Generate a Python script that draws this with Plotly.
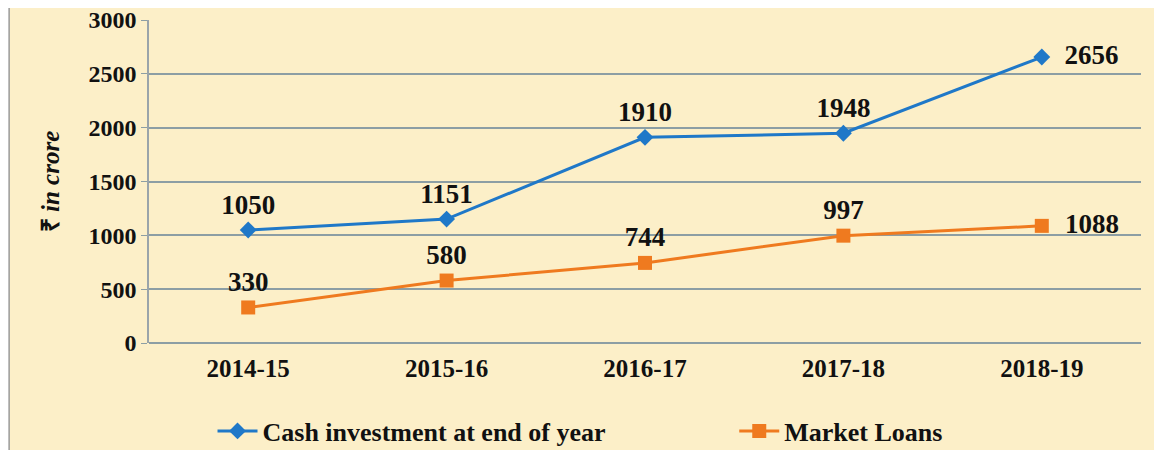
import plotly.graph_objects as go

years = ["2014-15", "2015-16", "2016-17", "2017-18", "2018-19"]
cash_investment = [1050, 1151, 1910, 1948, 2656]
market_loans = [330, 580, 744, 997, 1088]
y_ticks = [0, 500, 1000, 1500, 2000, 2500, 3000]

BLUE = "#1f78c8"
ORANGE = "#ef7a1f"
CREAM = "#fcefc8"
GRID = "#8c9ea4"
FONT = "Liberation Serif, Times New Roman, serif"

pos = ["top center"] * 4 + ["middle right"]


def labels(vals):
    # last point is labelled to the right, with a little gap
    return [str(v) for v in vals[:-1]] + ["  " + str(vals[-1])]


fig = go.Figure()
fig.add_trace(go.Scatter(
    x=years, y=cash_investment, name="Cash investment at end of year",
    mode="lines+markers+text", text=labels(cash_investment),
    textposition=pos, textfont=dict(size=27, color="#111111"),
    line=dict(color=BLUE, width=3),
    marker=dict(symbol="diamond", size=13, color=BLUE),
    legend="legend",
))
fig.add_trace(go.Scatter(
    x=years, y=market_loans, name="Market Loans",
    mode="lines+markers+text", text=labels(market_loans),
    textposition=pos, textfont=dict(size=27, color="#111111"),
    line=dict(color=ORANGE, width=3),
    marker=dict(symbol="square", size=14, color=ORANGE),
    legend="legend2",
))

# cream framed background
fig.add_shape(type="rect", xref="paper", yref="paper",
              x0=-0.141, x1=1.06, y0=-0.40, y1=1.040,
              fillcolor=CREAM, line=dict(color="#9a9a9a", width=1.5), layer="below")

leg = dict(orientation="h", xref="container", xanchor="left",
           y=0.06, yref="container", yanchor="middle", bgcolor="rgba(0,0,0,0)",
           font=dict(size=26, family=FONT, weight="bold"), itemwidth=40)

fig.update_layout(
    width=1162, height=450,
    paper_bgcolor="#ffffff", plot_bgcolor="rgba(0,0,0,0)",
    font=dict(family=FONT, color="#111111", size=20, weight="bold"),
    margin=dict(l=141, r=29, t=12, b=115, autoexpand=False),
    showlegend=True,
    legend=dict(leg, x=0.176),
    legend2=dict(leg, x=0.625),
)
fig.update_xaxes(
    range=[-0.5, 4.5], showgrid=False, zeroline=False, showline=False,
    tickfont=dict(size=25, family=FONT, weight="bold"), ticklabelstandoff=8,
    tickangle=0,
)
fig.update_yaxes(
    range=[0, 3000], tickvals=y_ticks, showgrid=True, gridcolor=GRID, gridwidth=1.5,
    zeroline=True, zerolinecolor=GRID, zerolinewidth=1.5,
    showline=True, linecolor="#9aa4aa", linewidth=1.5,
    ticks="outside", ticklen=6, tickcolor=GRID, ticklabeloverflow="allow",
    tickfont=dict(size=24, family=FONT, weight="bold"),
    title=dict(text="₹ <i>in crore</i>", standoff=22,
               font=dict(size=25, family=FONT, weight="bold")),
)

fig.write_html("out.html")
